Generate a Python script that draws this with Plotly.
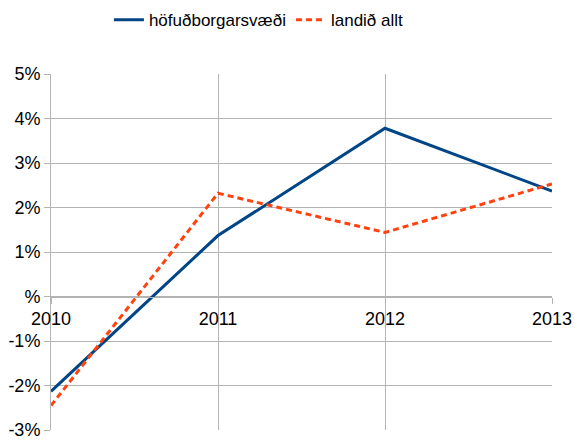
import plotly.graph_objects as go

years = [2010, 2011, 2012, 2013]
hofud = [-2.13, 1.37, 3.78, 2.37]
landid = [-2.45, 2.32, 1.44, 2.53]
ytick_vals = [5, 4, 3, 2, 1, 0, -1, -2, -3]
ytick_text = ["5%", "4%", "3%", "2%", "1%", "%", "-1%", "-2%", "-3%"]
xtick_text = ["2010", "2011", "2012", "2013"]

grid = "#b3b3b3"
fig = go.Figure()
fig.add_trace(go.Scatter(x=years, y=hofud, mode="lines", name="höfuðborgarsvæði",
                         line=dict(color="#004586", width=3)))
fig.add_trace(go.Scatter(x=years, y=landid, mode="lines", name="landið allt",
                         line=dict(color="#ff420e", width=3, dash="6px,4px")))

y0, y1 = -3, 5
ypos = (0 - y0) / (y1 - y0)
fig.update_layout(
    width=574, height=441,
    margin=dict(l=51, r=22, t=74, b=11, autoexpand=False),
    paper_bgcolor="white", plot_bgcolor="white",
    font=dict(family="Liberation Sans, Arial, sans-serif", size=18, color="black"),
    showlegend=True,
    legend=dict(orientation="h", x=0.415, xref="paper", xanchor="center", y=0.995,
                yref="container", yanchor="top", font=dict(size=17), itemwidth=30,
                tracegroupgap=0),
    xaxis=dict(range=[2010, 2013], tickvals=years, ticktext=xtick_text,
               showgrid=True, gridcolor=grid, gridwidth=1,
               showline=True, linecolor=grid, linewidth=1,
               ticks="outside", ticklen=6, tickcolor=grid,
               anchor="free", position=ypos, zeroline=False,
               automargin=False, tickfont=dict(size=18)),
    yaxis=dict(range=[y0, y1], tickvals=ytick_vals, ticktext=ytick_text,
               showgrid=True, gridcolor=grid, gridwidth=1,
               showline=True, linecolor=grid, linewidth=1,
               ticks="outside", ticklen=6, tickcolor=grid,
               zeroline=True, zerolinecolor=grid, zerolinewidth=1,
               automargin=False, tickfont=dict(size=18)),
)
fig.write_html("out.html", config={"displayModeBar": False},
               post_script="document.body.style.margin='0';document.body.style.padding='0';document.body.style.overflow='hidden';")
